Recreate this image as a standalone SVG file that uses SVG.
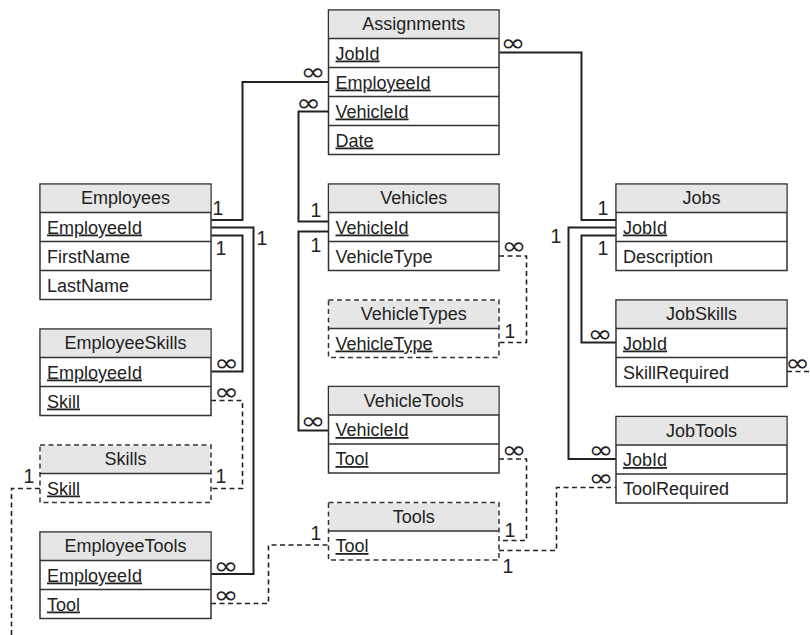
<svg xmlns="http://www.w3.org/2000/svg" width="810" height="635" viewBox="0 0 810 635">
<style>
.box{fill:#fff;stroke:#333;stroke-width:1.5}
.dbox{fill:none;stroke:#333;stroke-width:1.5;stroke-dasharray:5 3.5}
.hd{fill:#e6e6e6;stroke:none}
.div{stroke:#333;stroke-width:1.5}
.t{font-family:"Liberation Sans",Arial,sans-serif;font-size:18px;fill:#222}
.h{text-anchor:middle}
.k{text-decoration:underline}
.c{fill:none;stroke:#222;stroke-width:2}
.d{fill:none;stroke:#222;stroke-width:1.6;stroke-dasharray:5 3.5}
.inf{font-family:"DejaVu Sans",sans-serif;font-size:24px;fill:#222;text-anchor:middle}
.one{font-family:"Liberation Sans",Arial,sans-serif;font-size:19.5px;fill:#222}
</style>

<g id="connectors">
<path class="c" d="M499,52.5 H581.5 V220 H616"/>
<path class="c" d="M328,82 H242.5 V220 H211"/>
<path class="c" d="M328,111.5 H298.5 V221.5 H328"/>
<path class="c" d="M211,227.5 H253.5 V574 H211"/>
<path class="c" d="M211,235.5 H242.5 V371.5 H211"/>
<path class="c" d="M328,231.5 H298.5 V430.5 H328"/>
<path class="c" d="M616,227.5 H568.5 V459 H616"/>
<path class="c" d="M616,235.5 H581.5 V342.5 H616"/>
<path class="d" d="M211,400.5 H242.5 V488.5 H211"/>
<path class="d" d="M40,488.5 H11.5 V635"/>
<path class="d" d="M211,603.5 H268.5 V545 H328"/>
<path class="d" d="M499,459 H526.5 V540.5 H499"/>
<path class="d" d="M499,550.5 H556.5 V487.5 H616"/>
<path class="d" d="M499,256 H526.5 V342.5 H499"/>
<path class="d" d="M787,371.5 H810"/>
<text class="inf" transform="translate(513,51) scale(1.25,1)">∞</text>
<text class="inf" transform="translate(313,80) scale(1.25,1)">∞</text>
<text class="inf" transform="translate(308.5,111) scale(1.25,1)">∞</text>
<text class="inf" transform="translate(226.5,370.5) scale(1.25,1)">∞</text>
<text class="inf" transform="translate(226.5,400) scale(1.25,1)">∞</text>
<text class="inf" transform="translate(226,573.5) scale(1.25,1)">∞</text>
<text class="inf" transform="translate(226,603) scale(1.25,1)">∞</text>
<text class="inf" transform="translate(514,254) scale(1.25,1)">∞</text>
<text class="inf" transform="translate(313,429) scale(1.25,1)">∞</text>
<text class="inf" transform="translate(514,458) scale(1.25,1)">∞</text>
<text class="inf" transform="translate(600,341.5) scale(1.25,1)">∞</text>
<text class="inf" transform="translate(797.5,370.5) scale(1.25,1)">∞</text>
<text class="inf" transform="translate(601,458) scale(1.25,1)">∞</text>
<text class="inf" transform="translate(601,485.5) scale(1.25,1)">∞</text>
<text class="one" x="212.5" y="215">1</text>
<text class="one" x="256.5" y="245">1</text>
<text class="one" x="215.5" y="255">1</text>
<text class="one" x="215.5" y="483">1</text>
<text class="one" x="23.5" y="483">1</text>
<text class="one" x="310.5" y="540">1</text>
<text class="one" x="504.5" y="537">1</text>
<text class="one" x="502.5" y="573">1</text>
<text class="one" x="310.5" y="217">1</text>
<text class="one" x="310.5" y="252">1</text>
<text class="one" x="504.5" y="338">1</text>
<text class="one" x="597.5" y="215">1</text>
<text class="one" x="550.5" y="243">1</text>
<text class="one" x="597.5" y="255">1</text>
</g>

<g id="Assignments">
<rect class="box" x="328.5" y="10" width="170.5" height="144.5"/>
<rect class="hd" x="329.3" y="10.8" width="169" height="27.7"/>
<path class="div" d="M328.5,38.5 H499 M328.5,67.5 H499 M328.5,96.5 H499 M328.5,125.5 H499"/>
<text class="t h" x="413.7" y="30">Assignments</text>
<text class="t k" x="335.5" y="59.5">JobId</text>
<text class="t k" x="335.5" y="88.5">EmployeeId</text>
<text class="t k" x="335.5" y="117.5">VehicleId</text>
<text class="t k" x="335.5" y="146.5">Date</text>
</g>

<g id="Employees">
<rect class="box" x="40" y="184" width="171" height="115.5"/>
<rect class="hd" x="40.8" y="184.8" width="169.5" height="27.7"/>
<path class="div" d="M40,212.5 H211 M40,241.5 H211 M40,270.5 H211"/>
<text class="t h" x="125.5" y="204">Employees</text>
<text class="t k" x="47" y="233.5">EmployeeId</text>
<text class="t" x="47" y="262.5">FirstName</text>
<text class="t" x="47" y="291.5">LastName</text>
</g>

<g id="EmployeeSkills">
<rect class="box" x="40" y="329" width="171" height="86.5"/>
<rect class="hd" x="40.8" y="329.8" width="169.5" height="27.7"/>
<path class="div" d="M40,357.5 H211 M40,386.5 H211"/>
<text class="t h" x="125.5" y="349">EmployeeSkills</text>
<text class="t k" x="47" y="378.5">EmployeeId</text>
<text class="t k" x="47" y="407.5">Skill</text>
</g>

<g id="Skills">
<rect class="hd" x="40.8" y="445.8" width="169.5" height="27.7"/>
<rect class="dbox" x="40" y="445" width="171" height="57.5"/>
<path class="div" d="M40,473.5 H211"/>
<text class="t h" x="125.5" y="465">Skills</text>
<text class="t k" x="47" y="494.5">Skill</text>
</g>

<g id="EmployeeTools">
<rect class="box" x="40" y="532" width="171" height="86.5"/>
<rect class="hd" x="40.8" y="532.8" width="169.5" height="27.7"/>
<path class="div" d="M40,560.5 H211 M40,589.5 H211"/>
<text class="t h" x="125.5" y="552">EmployeeTools</text>
<text class="t k" x="47" y="581.5">EmployeeId</text>
<text class="t k" x="47" y="610.5">Tool</text>
</g>

<g id="Vehicles">
<rect class="box" x="328.5" y="184" width="170.5" height="86.5"/>
<rect class="hd" x="329.3" y="184.8" width="169" height="27.7"/>
<path class="div" d="M328.5,212.5 H499 M328.5,241.5 H499"/>
<text class="t h" x="413.7" y="204">Vehicles</text>
<text class="t k" x="335.5" y="233.5">VehicleId</text>
<text class="t" x="335.5" y="262.5">VehicleType</text>
</g>

<g id="VehicleTypes">
<rect class="hd" x="329.3" y="300.8" width="169" height="27.7"/>
<rect class="dbox" x="328.5" y="300" width="170.5" height="57.5"/>
<path class="div" d="M328.5,328.5 H499"/>
<text class="t h" x="413.7" y="320">VehicleTypes</text>
<text class="t k" x="335.5" y="349.5">VehicleType</text>
</g>

<g id="VehicleTools">
<rect class="box" x="328.5" y="386.5" width="170.5" height="86.5"/>
<rect class="hd" x="329.3" y="387.3" width="169" height="27.7"/>
<path class="div" d="M328.5,415 H499 M328.5,444 H499"/>
<text class="t h" x="413.7" y="406.5">VehicleTools</text>
<text class="t k" x="335.5" y="436">VehicleId</text>
<text class="t k" x="335.5" y="465">Tool</text>
</g>

<g id="Tools">
<rect class="hd" x="329.3" y="503.3" width="169" height="27.7"/>
<rect class="dbox" x="328.5" y="502.5" width="170.5" height="57.5"/>
<path class="div" d="M328.5,531 H499"/>
<text class="t h" x="413.7" y="522.5">Tools</text>
<text class="t k" x="335.5" y="552">Tool</text>
</g>

<g id="Jobs">
<rect class="box" x="616" y="184" width="171" height="86.5"/>
<rect class="hd" x="616.8" y="184.8" width="169.5" height="27.7"/>
<path class="div" d="M616,212.5 H787 M616,241.5 H787"/>
<text class="t h" x="701.5" y="204">Jobs</text>
<text class="t k" x="623" y="233.5">JobId</text>
<text class="t" x="623" y="262.5">Description</text>
</g>

<g id="JobSkills">
<rect class="box" x="616" y="300" width="171" height="86.5"/>
<rect class="hd" x="616.8" y="300.8" width="169.5" height="27.7"/>
<path class="div" d="M616,328.5 H787 M616,357.5 H787"/>
<text class="t h" x="701.5" y="320">JobSkills</text>
<text class="t k" x="623" y="349.5">JobId</text>
<text class="t" x="623" y="378.5">SkillRequired</text>
</g>

<g id="JobTools">
<rect class="box" x="616" y="416.5" width="171" height="86.5"/>
<rect class="hd" x="616.8" y="417.3" width="169.5" height="27.7"/>
<path class="div" d="M616,445 H787 M616,474 H787"/>
<text class="t h" x="701.5" y="436.5">JobTools</text>
<text class="t k" x="623" y="466">JobId</text>
<text class="t" x="623" y="495">ToolRequired</text>
</g>
</svg>
